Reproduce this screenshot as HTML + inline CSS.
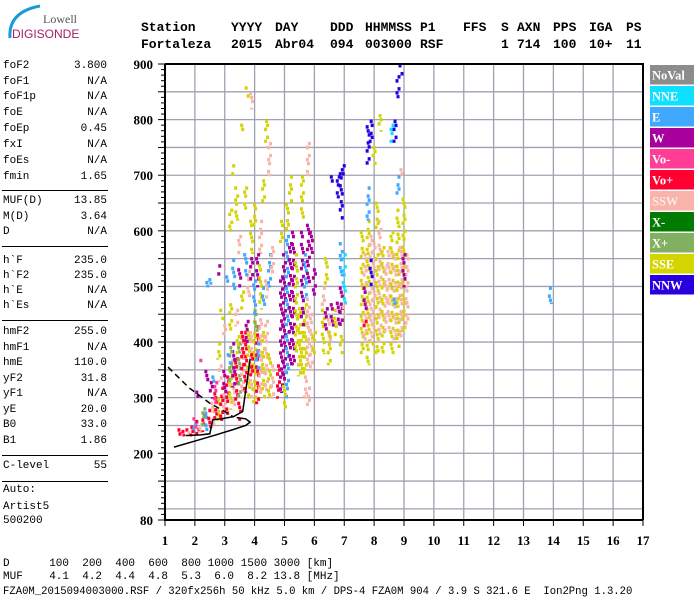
<!DOCTYPE html>
<html><head><meta charset="utf-8">
<style>
body{margin:0;background:#fff;width:700px;height:600px;overflow:hidden;position:relative;font-family:"Liberation Mono",monospace;}
.t{position:absolute;white-space:pre;}
.hd{font-family:"Liberation Mono",monospace;font-weight:bold;font-size:13px;color:#000;}
.lp{font-size:11px;color:#000;}
.ln{position:absolute;left:2px;width:106px;height:1px;background:#000;}
.bt{font-size:11px;}
</style></head>
<body>
<svg width="700" height="600" style="position:absolute;left:0;top:0" id="svg">
  <g>
    <path d="M10 38 Q8 12 40 6" stroke="#1a9bd8" stroke-width="3" fill="none"/>
    <text x="43" y="23" font-family="Liberation Serif, serif" font-size="12" fill="#555">Lowell</text>
    <text x="12" y="38" font-family="Liberation Sans, sans-serif" font-size="12" fill="#a0206a">DIGISONDE</text>
  </g>
</svg>
<div id="txt"></div>
<script>
// ---- data ----
const tickFreqs=[1,2,3,4,5,6,7,8,9,10,11,12,13,14,15,16,17];
const tickHeights=[900,800,700,600,500,400,300,200,80];
const legendNames=["NoVal","NNE","E","W","Vo-","Vo+","SSW","X-","X+","SSE","NNW"];
const legendColors=["#8c8c8c","#10e0ff","#40a8ff","#a8009c","#ff3c96","#ff0030","#f8b4aa","#007a00","#80b060","#d4d400","#2800e0"];
// echoes: freq MHz, low km, high km, legend index
const echoes=[
[1.5,232,245,5],[1.6,232,242,5],[1.7,232,245,5],[1.8,235,248,6],[1.9,232,250,5],[2.0,235,255,2],[2.1,235,260,5],[2.2,238,262,6],[2.3,240,270,5],[2.4,240,275,2],[2.5,245,280,5],[2.6,250,300,6],[2.7,255,310,5],[2.8,260,300,9],[2.9,260,320,5],[3.0,270,330,6],[3.1,270,340,5],[3.2,280,360,9],[3.3,285,370,6],[3.4,290,380,5],[3.5,300,400,8],[3.6,300,410,6],[3.7,310,420,5],[3.8,300,430,9],[3.9,300,420,6],[4.0,290,440,9],[4.1,290,430,5],[4.2,300,450,6],[4.3,300,420,9],[4.4,310,440,6],
[2.0,245,265,4],[2.3,250,290,8],[2.7,290,330,4],[3.0,300,350,3],[3.3,320,400,3],[3.5,260,300,5],[3.6,350,420,5],[3.9,340,380,5],[4.1,350,400,2],[3.2,330,400,8],[2.55,300,330,3],[2.85,330,360,6],[3.15,360,380,2],[3.45,380,420,9],[3.75,400,440,3],[4.05,420,460,8],[2.2,360,370,4],
[2.1,300,320,3],[2.4,330,350,3],[2.6,320,340,2],[2.8,370,400,9],[3.0,410,440,6],[3.2,420,470,9],[3.4,430,460,6],[2.9,440,460,9],[3.6,460,500,9],[3.8,480,530,6],[3.1,500,520,2],[3.3,495,550,2],[3.5,500,540,3],[3.7,520,560,2],[2.5,505,515,2],[2.8,520,540,3],[3.9,510,560,3],[2.4,500,510,2],
[3.2,600,640,9],[3.4,620,680,9],[3.5,560,600,6],[3.7,640,680,9],[3.9,560,620,9],[3.3,700,720,9],[3.6,780,800,9],[3.9,820,850,6],[4.0,600,650,9],[4.2,560,620,6],[4.3,650,700,9],[4.4,760,800,9],[4.5,700,760,6],[3.75,840,860,9],
[4.0,450,520,2],[4.1,500,560,3],[4.2,460,540,9],[4.3,460,500,2],[4.4,480,520,6],[4.5,300,380,9],[4.6,300,360,6],[4.5,500,560,2],[4.6,520,580,6],
[4.8,300,360,5],[4.9,310,520,3],[5.0,330,560,3],[5.1,300,600,2],[5.2,350,580,3],[5.3,360,600,3],[5.4,380,560,9],[5.0,280,330,9],[5.1,600,650,9],[4.9,580,620,9],[5.2,650,700,9],
[5.5,340,470,9],[5.6,340,420,9],[5.7,350,470,9],[5.8,360,480,6],[5.9,350,460,6],[6.0,380,420,9],[5.6,430,600,3],[5.7,480,560,2],[5.8,500,620,3],[5.9,560,600,3],[5.7,300,340,6],[5.8,280,320,6],[6.0,480,540,3],[5.6,620,700,9],[5.8,700,760,6],
[6.3,380,460,9],[6.4,420,470,3],[6.5,400,450,6],[6.6,420,470,3],[6.7,410,460,9],[6.8,430,480,3],[6.9,430,500,3],[6.5,360,420,9],[6.3,460,500,6],[6.9,380,420,9],[7.0,450,480,6],[7.0,470,560,1],[6.9,520,580,2],[6.9,620,720,10],[6.8,660,700,10],[6.6,680,700,10],[7.0,700,720,10],[6.4,500,560,9],
[7.6,380,600,9],[7.7,400,560,6],[7.8,360,620,9],[7.9,400,600,6],[8.0,420,580,6],[8.1,380,560,9],[8.2,400,620,6],[8.3,380,580,9],[8.4,420,540,6],[7.7,450,500,3],[7.9,500,550,10],[8.1,600,660,9],[7.8,720,790,10],[7.9,750,800,10],[7.8,620,680,2],[8.0,720,760,9],[8.2,780,810,9],[7.7,420,440,5],[8.0,380,400,9],
[8.5,420,580,6],[8.6,380,600,9],[8.7,400,560,6],[8.8,390,640,9],[8.9,400,580,6],[9.0,420,660,9],[9.1,430,560,6],[8.8,660,700,2],[8.9,700,720,6],[8.7,760,800,10],[8.8,840,880,10],[8.9,880,900,10],[8.6,760,800,1],[9.0,500,560,3],[8.7,460,480,2],
[13.9,470,500,2]
];
const curveAf=[1.3,2.0,2.7,3.3,3.7,3.85,3.7,3.4];
const curveAh=[211,222,233,243,250,256,262,264];
const curveBf=[1.7,2.2,2.5,2.6,2.9,3.3,3.6,3.75,3.85];
const curveBh=[232,233,235,260,262,266,275,330,370];
const dashF=[1.1,1.8,2.5,3.0,3.3];
const dashH=[355,318,290,275,265];

// ---- axes ----
const X0=165,X1=643,Y0=64,Y1=520;
const fx=f=>X0+(f-1)*(X1-X0)/16;
const hy=h=>Y0+(900-h)*(Y1-Y0)/820;
const NS="http://www.w3.org/2000/svg";
const svg=document.getElementById('svg');
function mk(tag,attrs,parent){const e=document.createElementNS(NS,tag);for(const k in attrs)e.setAttribute(k,attrs[k]);(parent||svg).appendChild(e);return e;}

const grid=mk('g',{});


for(let f=2;f<=16;f++){mk('line',{x1:fx(f),x2:fx(f),y1:Y0,y2:Y1,stroke:'#a0a0b0','stroke-width':1.3},grid);}
for(let h=100;h<=850;h+=50){mk('line',{x1:X0,x2:X1,y1:hy(h),y2:hy(h),stroke:'#a0a0b0','stroke-width':1.3},grid);}

const eg=mk('g',{});


echoes.forEach((e,i)=>{
  const g=mk('g',{fill:legendColors[e[3]]},eg);
  
  
  const top=hy(e[2]),bot=hy(e[1]);
  let k=0;
  for(let y=top;y<bot;y+=4,k++){
    if((k+i)%4===3)continue; // speckle gaps
    const off=((k+i)%3-1);
    mk('rect',{x:fx(e[0])-1.5+off,width:3,y:y,height:Math.min(3.5,bot-y+1)},g);
  }
});

function poly(F,H,dash,name){
  const p=mk('polyline',{points:F.map((f,i)=>fx(f)+','+hy(H[i])).join(' '),fill:'none',stroke:'#000','stroke-width':1.5});
  if(dash)p.setAttribute('stroke-dasharray','6 4');
  
  
}
poly(curveAf,curveAh,false,'profile-curve');
poly(curveBf,curveBh,false,'o-trace-fit');
poly(dashF,dashH,true,'x-trace-fit');

const fr=mk('path',{d:`M${X0} ${Y0} H${X1} V${Y1} M${X0} ${Y0} V${Y1} H${X1}`,fill:'none',stroke:'#000','stroke-width':2});


const yt=mk('g',{});


for(let h=80;h<=900;h+=10){const major=h%50===0||h===80;mk('line',{x1:X0-(major?7:4),x2:X0,y1:hy(h),y2:hy(h),stroke:'#000','stroke-width':1},yt);}
tickHeights.forEach(h=>{const t=mk('text',{x:153,y:hy(h)+5,'text-anchor':'end','font-family':'Liberation Serif, serif','font-weight':'bold','font-size':13},yt);t.textContent=h;
});
const xt=mk('g',{});


tickFreqs.forEach(f=>{mk('line',{x1:fx(f),x2:fx(f),y1:Y1,y2:Y1+6,stroke:'#000'},xt);
const t=mk('text',{x:fx(f),y:545,'text-anchor':'middle','font-family':'Liberation Serif, serif','font-weight':'bold','font-size':13},xt);t.textContent=f;
});

const lg=mk('g',{});


legendNames.forEach((n,i)=>{
  const y=65+i*21;
  const r=mk('rect',{x:650,y:y,width:44,height:19.5,fill:legendColors[i]},lg);
  
  
  const t=mk('text',{x:652,y:y+14.5,fill:i===6?'#fde8e2':'#fff','font-family':'Liberation Serif, serif','font-weight':'bold','font-size':12.5},lg);
  t.textContent=n;
});

const txt=document.getElementById('txt');
function T(cls,x,y,s,name,extra){const d=document.createElement('div');d.className='t '+cls;d.style.left=x+'px';d.style.top=y+'px';if(extra)d.style.cssText+=extra;d.textContent=s;


txt.appendChild(d);}
const h1=[["Station",141],["YYYY",231],["DAY",275],["DDD",330],["HHMMSS",365],["P1",420],["FFS",463],["S",501],["AXN",517],["PPS",553],["IGA",589],["PS",626]];
const h2=[["Fortaleza",141],["2015",231],["Abr04",275],["094",330],["003000",365],["RSF",420],["1",501],["714",517],["100",553],["10+",589],["11",626]];
h1.forEach(a=>T('hd',a[1],20,a[0],'header-label'));
h2.forEach(a=>T('hd',a[1],37,a[0],'header-value'));
const params=[["foF2","3.800",67],["foF1","N/A",83],["foF1p","N/A",98],["foE","N/A",114],["foEp","0.45",130],["fxI","N/A",146],["foEs","N/A",162],["fmin","1.65",178],
["MUF(D)","13.85",202],["M(D)","3.64",218],["D","N/A",233],
["h`F","235.0",262],["h`F2","235.0",277],["h`E","N/A",292],["h`Es","N/A",307],
["hmF2","255.0",333],["hmF1","N/A",349],["hmE","110.0",364],["yF2","31.8",380],["yF1","N/A",395],["yE","20.0",411],["B0","33.0",426],["B1","1.86",442],["C-level","55",467]];
params.forEach(p=>{T('lp',3,p[2]-7,p[0],'param-name');T('lp',47,p[2]-7,p[1],'param-value','width:60px;text-align:right;');});
[190,246,320,455,481].forEach(y=>{const d=document.createElement('div');d.className='ln';d.style.top=y+'px';
txt.appendChild(d);});
T('lp',3,484,"Auto:",'auto-label');T('lp',3,501,"Artist5",'artist-label');T('lp',3,515,"500200",'artist-code');
T('bt',3,558,"D      100  200  400  600  800 1000 1500 3000 [km]",'distance-row');
T('bt',3,571,"MUF    4.1  4.2  4.4  4.8  5.3  6.0  8.2 13.8 [MHz]",'muf-row');
T('bt',3,586,"FZA0M_2015094003000.RSF / 320fx256h 50 kHz 5.0 km / DPS-4 FZA0M 904 / 3.9 S 321.6 E  Ion2Png 1.3.20",'file-info','font-size:10.6px;');
</script>
</body></html>
